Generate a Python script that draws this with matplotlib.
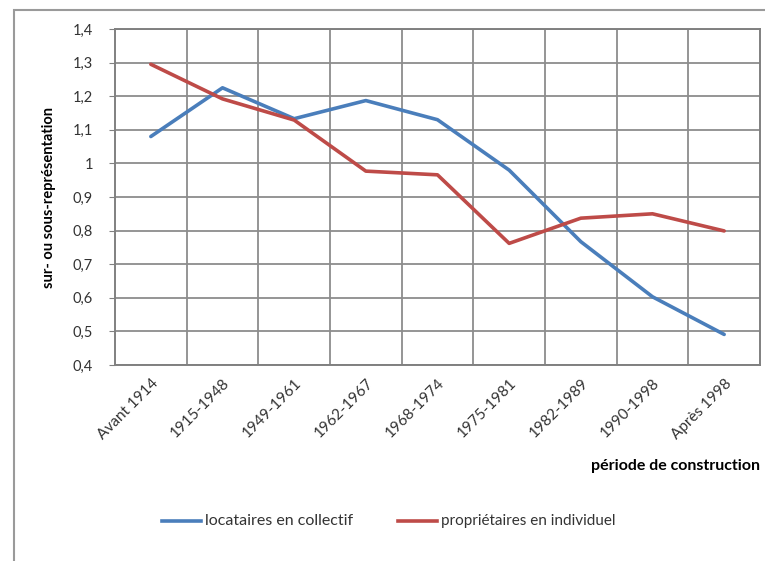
import matplotlib
matplotlib.use("Agg")
import matplotlib.pyplot as plt
import matplotlib.patches as patches
from matplotlib.ticker import FuncFormatter, MultipleLocator

# data
periodes = ["Avant 1914", "1915-1948", "1949-1961", "1962-1967", "1968-1974",
            "1975-1981", "1982-1989", "1990-1998", "Après 1998"]
locataires = [1.08, 1.225, 1.133, 1.187, 1.13, 0.98, 0.767, 0.603, 0.491]
proprietaires = [1.295, 1.192, 1.129, 0.977, 0.966, 0.762, 0.837, 0.85, 0.799]

blue = "#4a7ebb"
red = "#be4b48"
grid_col = "#8c8c8c"

plt.rcParams['font.family'] = ['Lato', 'DejaVu Sans']

fig = plt.figure(figsize=(7.65, 5.61), dpi=100)
ax = fig.add_axes([115 / 765, 1 - 365 / 561, 645 / 765, 336 / 561])

x = list(range(len(periodes)))
ax.plot(x, locataires, color=blue, lw=2.6, solid_capstyle='round')
ax.plot(x, proprietaires, color=red, lw=2.6, solid_capstyle='round')

ax.set_xlim(-0.5, len(periodes) - 0.5)
ax.set_ylim(0.4, 1.4)
ax.yaxis.set_major_locator(MultipleLocator(0.1))
ax.yaxis.set_major_formatter(FuncFormatter(
    lambda v, p: ("%.1f" % v).replace(".", ",").replace(",0", "")))

# vertical grid lines sit between categories
for b in range(1, len(periodes)):
    ax.axvline(b - 0.5, color=grid_col, lw=1.3, zorder=0)
ax.grid(axis='y', color=grid_col, lw=1.3, zorder=0)
ax.set_axisbelow(True)
for s in ax.spines.values():
    s.set_color("#808080")
    s.set_linewidth(1.4)

ax.set_xticks(x)
ax.set_xticklabels(periodes, rotation=45, ha='right', va='top',
                   rotation_mode='anchor', fontsize=11, color="#333333")
ax.tick_params(axis='x', length=0, pad=8)
ax.tick_params(axis='y', length=4, pad=12, labelsize=10.5, labelcolor="#333333",
               color="#808080")

ax.set_ylabel("sur- ou sous-représentation", fontsize=10.5, fontweight='bold',
              labelpad=12)
fig.text(760 / 765, 1 - 466 / 561, "période de construction", ha='right',
         va='center', fontsize=11.5, fontweight='bold')

# legend drawn by hand below the chart
ly = 1 - 521 / 561
fig.add_artist(plt.Line2D([162 / 765, 201 / 765], [ly, ly], color=blue, lw=2.6))
fig.text(205 / 765, ly, "locataires en collectif", va='center', fontsize=11.5,
         color="#333333")
fig.add_artist(plt.Line2D([398 / 765, 437 / 765], [ly, ly], color=red, lw=2.6))
fig.text(441 / 765, ly, "propriétaires en individuel", va='center', fontsize=11,
         color="#333333")

# outer chart frame (runs off the right and bottom edges)
frame = patches.Rectangle((14 / 765, -0.05), 1.1, 1 - 10 / 561 + 0.05,
                          transform=fig.transFigure, fill=False,
                          edgecolor="#9a9a9a", lw=1.5, clip_on=False)
fig.add_artist(frame)

fig.savefig("out.png", dpi=100)
